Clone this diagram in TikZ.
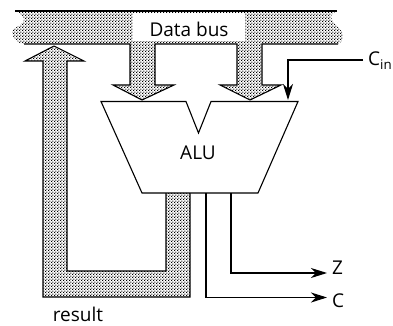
\documentclass[tikz,border=0pt]{standalone}
\usepackage{fontspec}
\setmainfont{Open Sans}
\usetikzlibrary{patterns,arrows.meta,calc}
\pgfdeclarepatternformonly{busdots}{\pgfqpoint{-0.5pt}{-0.5pt}}{\pgfqpoint{2.3pt}{2.3pt}}{\pgfqpoint{2.8pt}{2.8pt}}{%
  \pgfpathrectangle{\pgfqpoint{-0.5pt}{-0.5pt}}{\pgfqpoint{1.2pt}{1.2pt}}%
  \pgfpathrectangle{\pgfqpoint{0.9pt}{0.9pt}}{\pgfqpoint{1.2pt}{1.2pt}}%
  \pgfusepath{fill}}
\tikzset{
  bus/.style={pattern=busdots,pattern color=black},
  outline/.style={draw=black,line width=1.1pt,line join=miter},
  signal/.style={draw=black,line width=1.1pt,-{Stealth[length=16pt,width=10pt,inset=5pt]}},
  lbl/.style={font=\fontsize{19}{22}\selectfont,inner sep=0pt,text=black}
}
\begin{document}
\begin{tikzpicture}[x=1pt,y=-1pt]
\useasboundingbox (0,0) rectangle (393,326);
% shaded data paths (fill)
\fill[bus] (15,11) .. controls (22,14) and (26,18) .. (23,22) .. controls (20,27) and (11,28) .. (12,33) .. controls (13,38) and (18,44) .. (24,44)
  -- (130,44) -- (130,85) -- (113,85) -- (142,100) -- (174,85) -- (155,85) -- (155,44)
  -- (237,44) -- (237,85) -- (220,85) -- (250,100) -- (281,85) -- (262,85) -- (262,44)
  -- (338,44) .. controls (343,42) and (344,36) .. (342,32) .. controls (339,27) and (331,22) .. (331,17) .. controls (331,14) and (334,12) .. (337,11) -- cycle;
\fill[bus] (54,46) -- (84,61) -- (67,61) -- (67,271) -- (166,271) -- (166,193) -- (190,193) -- (190,297) -- (43,297) -- (43,61) -- (25,61) -- cycle;
% bus label patch
\node[fill=white,minimum width=112pt,minimum height=28pt,inner sep=0pt] (patch) at (189,27) {};
\node[lbl] (bus) at (189,29) {Data bus};
% outlines
\draw[outline] (15,11) -- (337,11);
\draw[outline] (24,44) -- (130,44) -- (130,85) -- (113,85) -- (142,100) -- (174,85) -- (155,85) -- (155,44) -- (237,44) -- (237,85) -- (220,85) -- (250,100) -- (281,85) -- (262,85) -- (262,44) -- (338,44);
\draw[outline] (54,46) -- (84,61) -- (67,61) -- (67,271) -- (166,271) -- (166,193);
\draw[outline] (54,46) -- (25,61) -- (43,61) -- (43,297) -- (190,297) -- (190,193);
% ALU
\draw[outline,fill=white] (101,101.5) -- (186,101.5) -- (198.5,133) -- (211,101.5) -- (298,101.5) -- (258,193) -- (142,193) -- cycle;
\node[lbl] (alu) at (198,153) {ALU};
% labels
\node[lbl,anchor=west] (cin) at (368,61) {C\textsubscript{in}};
\node[lbl,anchor=west] (z) at (332,268) {Z};
\node[lbl,anchor=west] (c) at (332,300.5) {C};
\node[lbl,anchor=base] (res) at (78,321) {result};
% signals
\coordinate (cinin) at (288,100);
\coordinate (cinstart) at (363,60);
\coordinate (zout) at (231,193);
\coordinate (zend) at (327,273);
\coordinate (cout) at (206,193);
\coordinate (cend) at (327,297.5);
\draw[signal] (cinstart) -| (cinin);
\draw[signal] (zout) |- (zend);
\draw[signal] (cout) |- (cend);
\end{tikzpicture}
\end{document}
